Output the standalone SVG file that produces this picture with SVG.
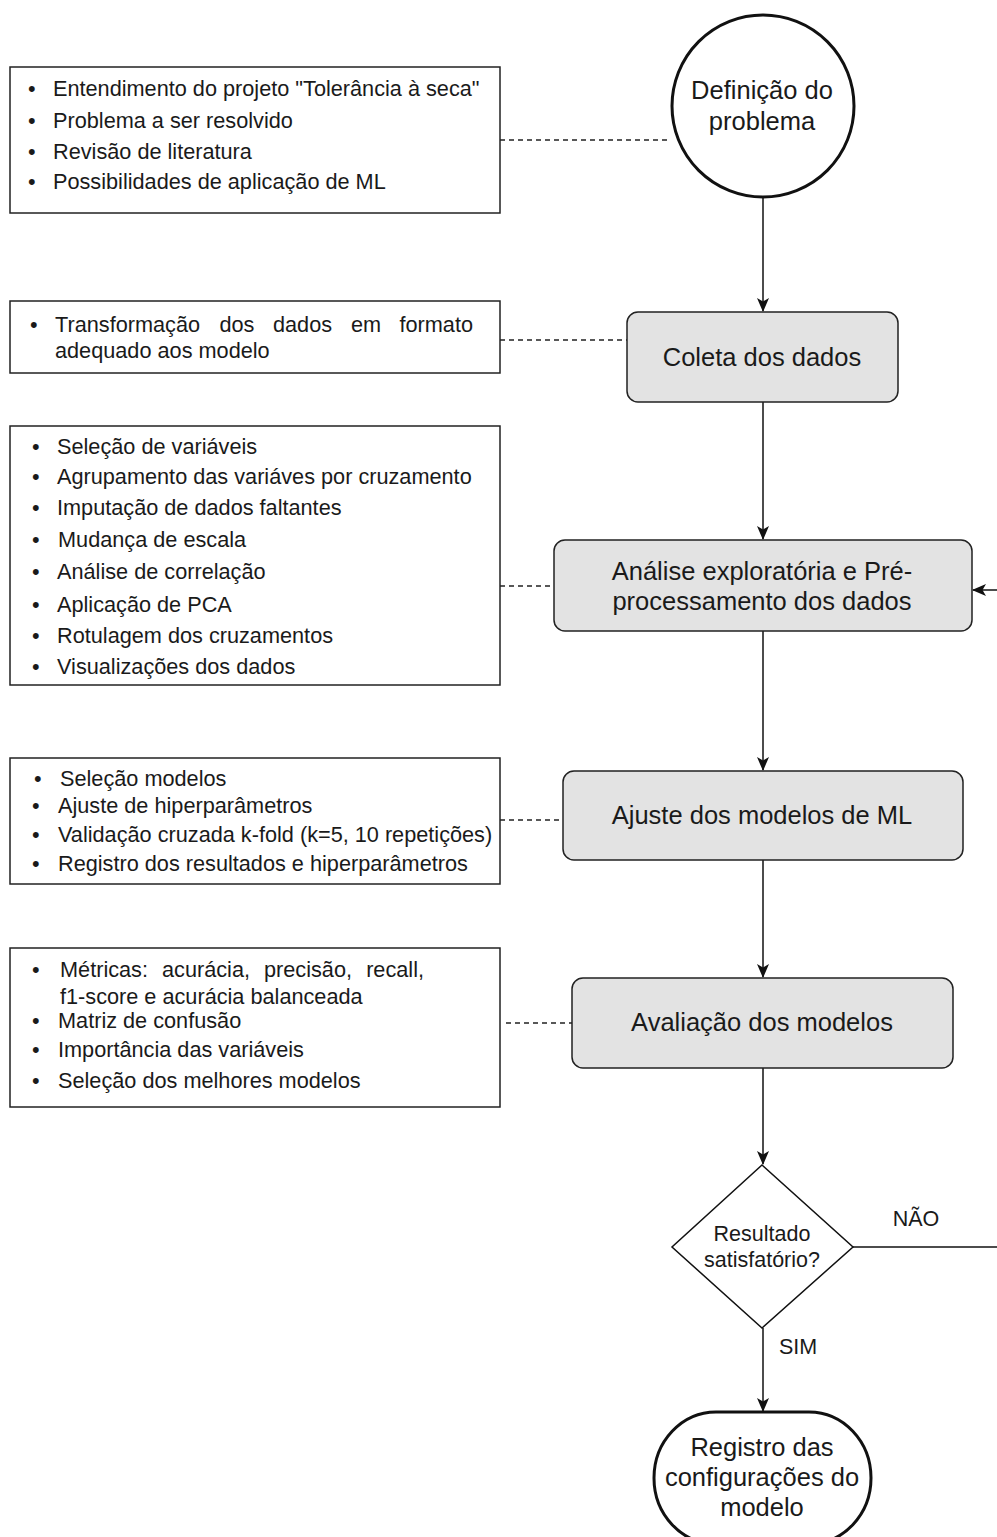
<svg xmlns="http://www.w3.org/2000/svg" width="997" height="1537" viewBox="0 0 997 1537">
<defs>
<style>
text{font-family:"Liberation Sans",Arial,sans-serif;fill:#1a1a1a}
.lst{font-size:21.7px}
.nd{font-size:25.5px;text-anchor:middle}
.sm{font-size:21.5px;text-anchor:middle}
.box{fill:#fff;stroke:#222;stroke-width:1.5}
.proc{fill:#e3e3e3;stroke:#222;stroke-width:1.5}
.ln{fill:none;stroke:#111;stroke-width:1.5}
.dash{fill:none;stroke:#222;stroke-width:1.3;stroke-dasharray:5 4}
</style>
<marker id="ah" markerWidth="14" markerHeight="14" viewBox="0 0 14 14" refX="13" refY="7" orient="auto" markerUnits="userSpaceOnUse">
<path d="M0,1 L14,7 L0,13 L3.5,7 Z" fill="#111"/>
</marker>
</defs>
<rect width="997" height="1537" fill="#fff"/>

<g id="connectors">
<line class="ln" x1="763" y1="197" x2="763" y2="311" marker-end="url(#ah)"/>
<line class="ln" x1="763" y1="402" x2="763" y2="539" marker-end="url(#ah)"/>
<line class="ln" x1="763" y1="631" x2="763" y2="770" marker-end="url(#ah)"/>
<line class="ln" x1="763" y1="860" x2="763" y2="977" marker-end="url(#ah)"/>
<line class="ln" x1="763" y1="1068" x2="763" y2="1164" marker-end="url(#ah)"/>
<line class="ln" x1="763" y1="1328" x2="763" y2="1411" marker-end="url(#ah)"/>
<line class="ln" x1="853" y1="1247" x2="997" y2="1247"/>
<line class="ln" x1="997" y1="590" x2="973" y2="590" marker-end="url(#ah)"/>
<line class="dash" x1="500" y1="140" x2="671" y2="140"/>
<line class="dash" x1="500" y1="340" x2="627" y2="340"/>
<line class="dash" x1="500" y1="586" x2="554" y2="586"/>
<line class="dash" x1="500" y1="820" x2="563" y2="820"/>
<line class="dash" x1="506" y1="1023" x2="572" y2="1023"/>
<text class="sm" x="916" y="1226">NÃO</text>
<text class="sm" x="798" y="1354">SIM</text>
</g>

<g id="n_definicao">
<circle cx="763" cy="106" r="91" fill="#fff" stroke="#111" stroke-width="3"/>
<text class="nd" x="762" y="99">Definição do</text>
<text class="nd" x="762" y="130">problema</text>
</g>

<g id="n_coleta">
<rect class="proc" x="627" y="312" width="271" height="90" rx="11"/>
<text class="nd" x="762" y="366">Coleta dos dados</text>
</g>

<g id="n_analise">
<rect class="proc" x="554" y="540" width="418" height="91" rx="11"/>
<text class="nd" x="762" y="580">Análise exploratória e Pré-</text>
<text class="nd" x="762" y="610">processamento dos dados</text>
</g>

<g id="n_ajuste">
<rect class="proc" x="563" y="771" width="400" height="89" rx="11"/>
<text class="nd" x="762" y="824">Ajuste dos modelos de ML</text>
</g>

<g id="n_avaliacao">
<rect class="proc" x="572" y="978" width="381" height="90" rx="11"/>
<text class="nd" x="762" y="1031">Avaliação dos modelos</text>
</g>

<g id="n_decisao">
<polygon points="762,1165 853,1247 762,1328 672,1247" fill="#fff" stroke="#111" stroke-width="1.5"/>
<text class="sm" x="762" y="1241">Resultado</text>
<text class="sm" x="762" y="1267">satisfatório?</text>
</g>

<g id="n_registro">
<rect x="654" y="1412" width="217" height="132" rx="62" ry="66" fill="#fff" stroke="#111" stroke-width="3"/>
<text class="nd" x="762" y="1456">Registro das</text>
<text class="nd" x="762" y="1486">configurações do</text>
<text class="nd" x="762" y="1516">modelo</text>
</g>

<g id="b_definicao">
<rect class="box" x="10" y="67" width="490" height="146"/>
<g class="lst">
<text x="28" y="96">•</text><text x="53" y="96">Entendimento do projeto "Tolerância à seca"</text>
<text x="28" y="128">•</text><text x="53" y="128">Problema a ser resolvido</text>
<text x="28" y="159">•</text><text x="53" y="159">Revisão de literatura</text>
<text x="28" y="189">•</text><text x="53" y="189">Possibilidades de aplicação de ML</text>
</g>
</g>

<g id="b_coleta">
<rect class="box" x="10" y="301" width="490" height="72"/>
<g class="lst">
<text x="30" y="332">•</text>
<text x="55" y="332">Transformação</text>
<text x="219.5" y="332">dos</text>
<text x="273" y="332">dados</text>
<text x="351" y="332">em</text>
<text x="473" y="332" text-anchor="end">formato</text>
<text x="55" y="358">adequado aos modelo</text>
</g>
</g>

<g id="b_analise">
<rect class="box" x="10" y="426" width="490" height="259"/>
<g class="lst">
<text x="32" y="454">•</text><text x="57" y="454">Seleção de variáveis</text>
<text x="32" y="484">•</text><text x="57" y="484">Agrupamento das variáves por cruzamento</text>
<text x="32" y="515">•</text><text x="57" y="515">Imputação de dados faltantes</text>
<text x="32" y="547">•</text><text x="58" y="547">Mudança de escala</text>
<text x="32" y="579">•</text><text x="57" y="579">Análise de correlação</text>
<text x="32" y="612">•</text><text x="57" y="612">Aplicação de PCA</text>
<text x="32" y="643">•</text><text x="57" y="643">Rotulagem dos cruzamentos</text>
<text x="32" y="674">•</text><text x="57" y="674">Visualizações dos dados</text>
</g>
</g>

<g id="b_ajuste">
<rect class="box" x="10" y="758" width="490" height="126"/>
<g class="lst">
<text x="34" y="786">•</text><text x="60" y="786">Seleção modelos</text>
<text x="32" y="813">•</text><text x="58" y="813">Ajuste de hiperparâmetros</text>
<text x="32" y="842">•</text><text x="58" y="842">Validação cruzada k-fold (k=5, 10 repetições)</text>
<text x="32" y="871">•</text><text x="58" y="871">Registro dos resultados e hiperparâmetros</text>
</g>
</g>

<g id="b_avaliacao">
<rect class="box" x="10" y="948" width="490" height="159"/>
<g class="lst">
<text x="32" y="977">•</text>
<text x="60" y="977">Métricas:</text>
<text x="162" y="977">acurácia,</text>
<text x="264" y="977">precisão,</text>
<text x="424" y="977" text-anchor="end">recall,</text>
<text x="60" y="1004">f1-score e acurácia balanceada</text>
<text x="32" y="1028">•</text><text x="58" y="1028">Matriz de confusão</text>
<text x="32" y="1057">•</text><text x="58" y="1057">Importância das variáveis</text>
<text x="32" y="1088">•</text><text x="58" y="1088">Seleção dos melhores modelos</text>
</g>
</g>
</svg>
